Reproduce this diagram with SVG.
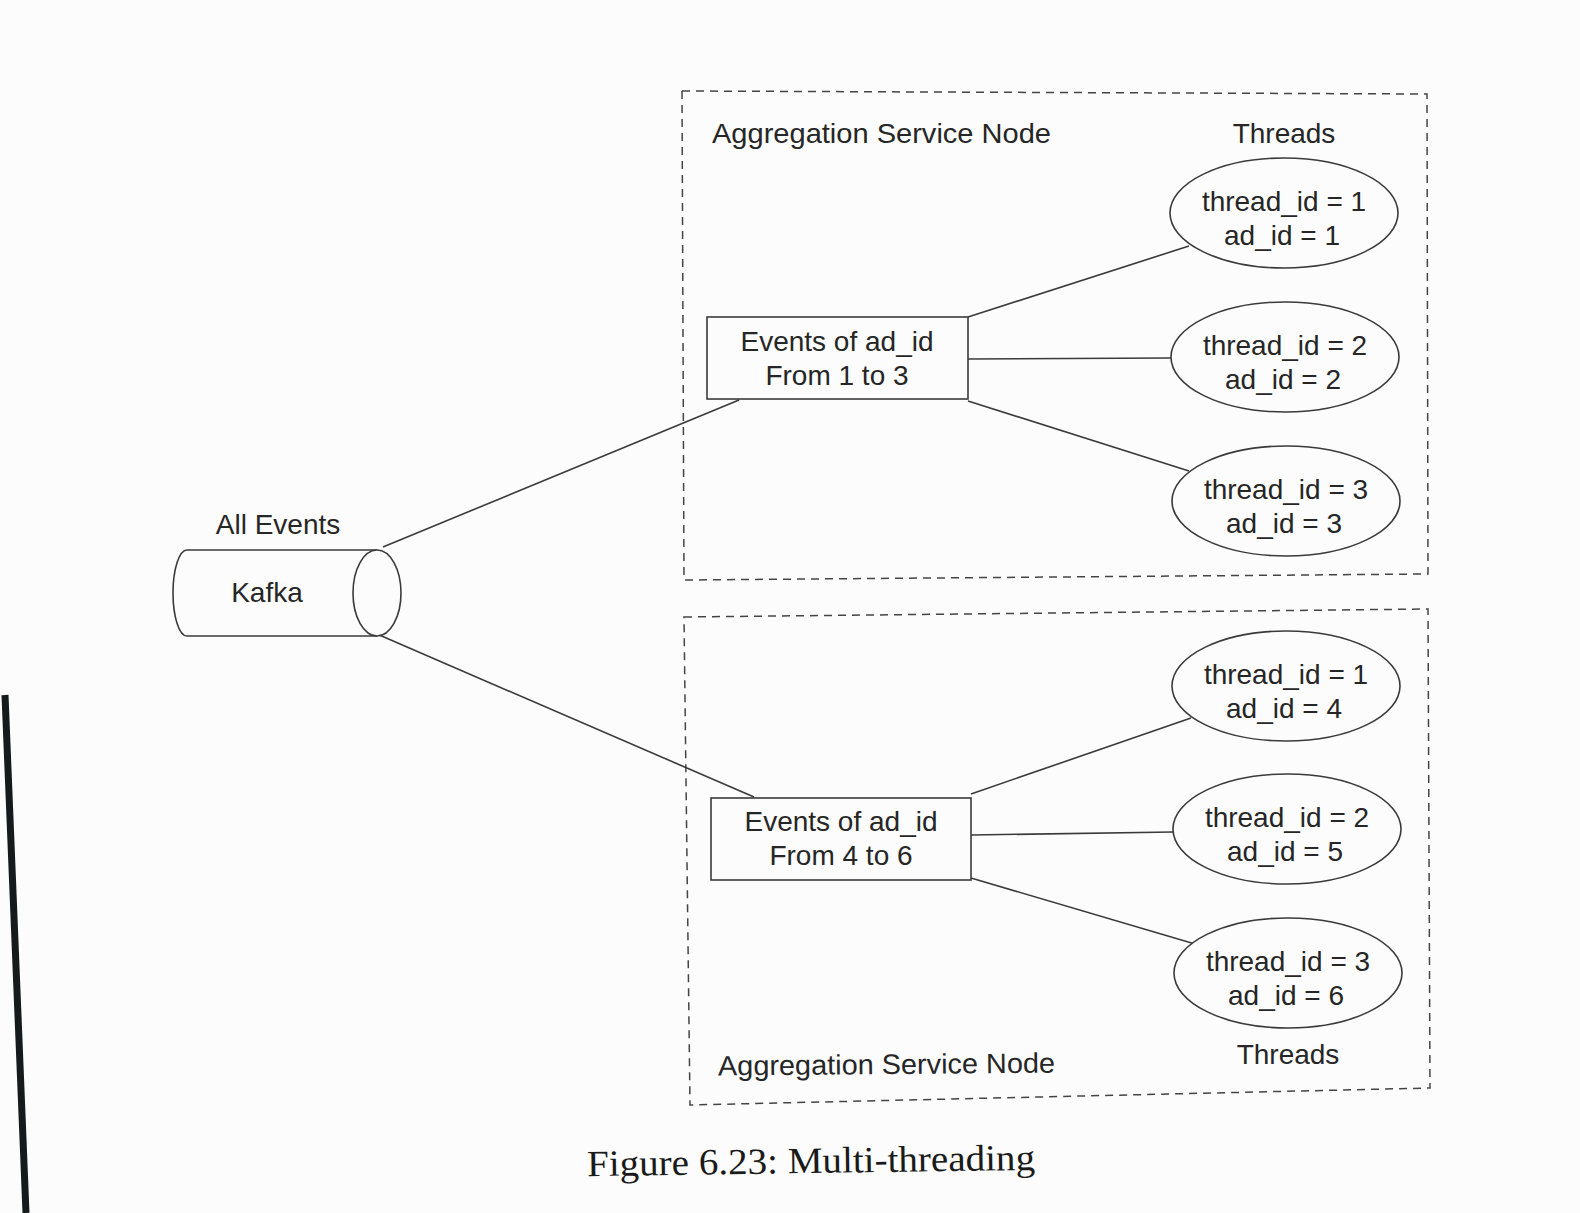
<svg xmlns="http://www.w3.org/2000/svg" width="1580" height="1213" viewBox="0 0 1580 1213">
<style>
.bg{fill:#fcfcfc}
.ln{fill:none;stroke:#3a3a3a;stroke-width:1.6}
.sh{fill:#fcfcfc;stroke:#3a3a3a;stroke-width:1.6}
.dash{fill:none;stroke:#444;stroke-width:1.5;stroke-dasharray:8 6}
.t{font-family:"Liberation Sans",Arial,sans-serif;font-size:28px;fill:#262626;text-anchor:middle}
.lbl{font-family:"Liberation Sans",Arial,sans-serif;font-size:28px;fill:#262626}
.cap{font-family:"Liberation Serif","Times New Roman",serif;font-size:37px;fill:#1a1a1a}
</style>
<rect class="bg" x="0" y="0" width="1580" height="1213"/>
<path d="M5,695 L26,1213" stroke="#151a1c" stroke-width="7" fill="none"/>

<g id="node-group-1">
<polygon class="dash" points="682,91 1427,94 1428,574 684,580"/>
<text class="lbl" x="712" y="143" textLength="339" lengthAdjust="spacingAndGlyphs">Aggregation Service Node</text>
<text class="t" x="1284" y="143">Threads</text>
</g>
<g id="node-group-2">
<polygon class="dash" points="684,617 1428,609 1430,1088 690,1105"/>
<text class="lbl" x="718" y="1074" textLength="337" lengthAdjust="spacingAndGlyphs" transform="rotate(-0.5 887 1064)">Aggregation Service Node</text>
<text class="t" x="1288" y="1064">Threads</text>
</g>

<g id="connectors">
<line class="ln" x1="383" y1="547" x2="739" y2="400"/>
<line class="ln" x1="377" y1="634" x2="754" y2="797"/>
<line class="ln" x1="968" y1="317" x2="1189" y2="246"/>
<line class="ln" x1="968" y1="359" x2="1171" y2="358"/>
<line class="ln" x1="968" y1="401" x2="1189" y2="471"/>
<line class="ln" x1="971" y1="794" x2="1191" y2="718"/>
<line class="ln" x1="971" y1="835" x2="1173" y2="832"/>
<line class="ln" x1="971" y1="878" x2="1195" y2="944"/>
</g>

<g id="kafka">
<path class="sh" d="M377,550 L187,550 A14,43 0 0 0 187,636 L377,636"/>
<ellipse class="sh" cx="377" cy="593" rx="24" ry="43"/>
<text class="t" x="267" y="602">Kafka</text>
<text class="t" x="278" y="534">All Events</text>
</g>

<g id="box1">
<rect class="sh" x="707" y="317" width="261" height="82"/>
<text class="t" x="837" y="351">Events of ad_id</text>
<text class="t" x="837" y="385">From 1 to 3</text>
</g>
<g id="box2">
<rect class="sh" x="711" y="798" width="260" height="82"/>
<text class="t" x="841" y="831">Events of ad_id</text>
<text class="t" x="841" y="865">From 4 to 6</text>
</g>

<g id="t1a"><ellipse class="sh" cx="1284" cy="213" rx="114" ry="55"/>
<text class="t" x="1284" y="211">thread_id = 1</text><text class="t" x="1282" y="245">ad_id = 1</text></g>
<g id="t1b"><ellipse class="sh" cx="1285" cy="357" rx="114" ry="55"/>
<text class="t" x="1285" y="355">thread_id = 2</text><text class="t" x="1283" y="389">ad_id = 2</text></g>
<g id="t1c"><ellipse class="sh" cx="1286" cy="501" rx="114" ry="55"/>
<text class="t" x="1286" y="499">thread_id = 3</text><text class="t" x="1284" y="533">ad_id = 3</text></g>

<g id="t2a"><ellipse class="sh" cx="1286" cy="686" rx="114" ry="55"/>
<text class="t" x="1286" y="684">thread_id = 1</text><text class="t" x="1284" y="718">ad_id = 4</text></g>
<g id="t2b"><ellipse class="sh" cx="1287" cy="829" rx="114" ry="55"/>
<text class="t" x="1287" y="827">thread_id = 2</text><text class="t" x="1285" y="861">ad_id = 5</text></g>
<g id="t2c"><ellipse class="sh" cx="1288" cy="973" rx="114" ry="55"/>
<text class="t" x="1288" y="971">thread_id = 3</text><text class="t" x="1286" y="1005">ad_id = 6</text></g>

<text class="cap" x="587" y="1173" textLength="448" lengthAdjust="spacingAndGlyphs" transform="rotate(-0.8 811 1160)">Figure 6.23: Multi-threading</text>
</svg>
